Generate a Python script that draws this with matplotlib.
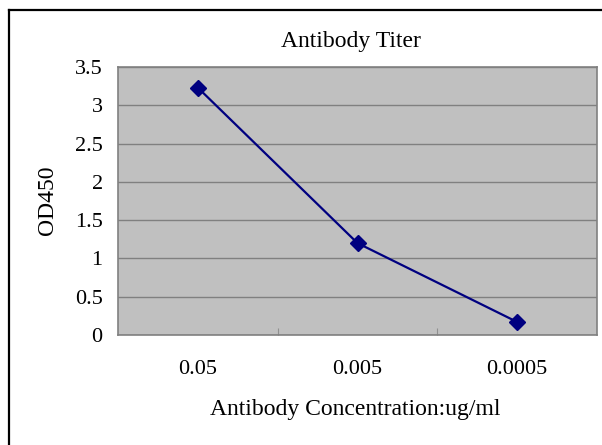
import matplotlib.pyplot as plt
from matplotlib.lines import Line2D

categories = ['0.05', '0.005', '0.0005']
od450 = [3.23, 1.20, 0.17]
y_ticks = [0, 0.5, 1, 1.5, 2, 2.5, 3, 3.5]
y_labels = ['0', '0.5', '1', '1.5', '2', '2.5', '3', '3.5']

plt.rcParams['font.family'] = ['Liberation Serif', 'DejaVu Serif']

fig = plt.figure(figsize=(6.02, 4.45), dpi=100)
ax = fig.add_axes([118 / 602, 1 - 335 / 445, 479 / 602, 268 / 445])

# outer chart border (left and top only visible)
fig.add_artist(Line2D([9 / 602, 9 / 602], [0, 1 - 10 / 445], color='black', lw=1.6,
                      transform=fig.transFigure))
fig.add_artist(Line2D([9 / 602, 1], [1 - 10 / 445, 1 - 10 / 445], color='black', lw=1.6,
                      transform=fig.transFigure))

ax.set_facecolor('#c0c0c0')
x = list(range(len(categories)))
ax.plot(x, od450, color='#000080', lw=1.6, marker='D', markersize=8, zorder=3)

ax.set_xlim(-0.5, len(categories) - 0.5)
ax.set_ylim(0, 3.5)
ax.set_yticks(y_ticks)
ax.set_yticklabels(y_labels, fontsize=16)
ax.yaxis.grid(True, color='#808080', lw=1)
ax.set_axisbelow(True)
ax.tick_params(axis='y', length=0, pad=11)

ax.set_xticks([0.5, 1.5])
ax.set_xticklabels([])
ax.tick_params(axis='x', direction='in', length=5, color='#909090')
for i, c in enumerate(categories):
    ax.text(i, -0.45, c, ha='center', va='center', fontsize=16,
            transform=ax.transData, clip_on=False)

for s in ax.spines.values():
    s.set_color('#808080')
    s.set_linewidth(1.2)

fig.text(351 / 602, 1 - 42 / 445, 'Antibody Titer', ha='center', va='center', fontsize=17)
fig.text(47 / 602, 1 - 200 / 445, 'OD450', ha='center', va='center', rotation=90, fontsize=17)
fig.text(355 / 602, 1 - 410 / 445, 'Antibody Concentration:ug/ml', ha='center', va='center',
         fontsize=17)

fig.savefig('out.png', dpi=100)
